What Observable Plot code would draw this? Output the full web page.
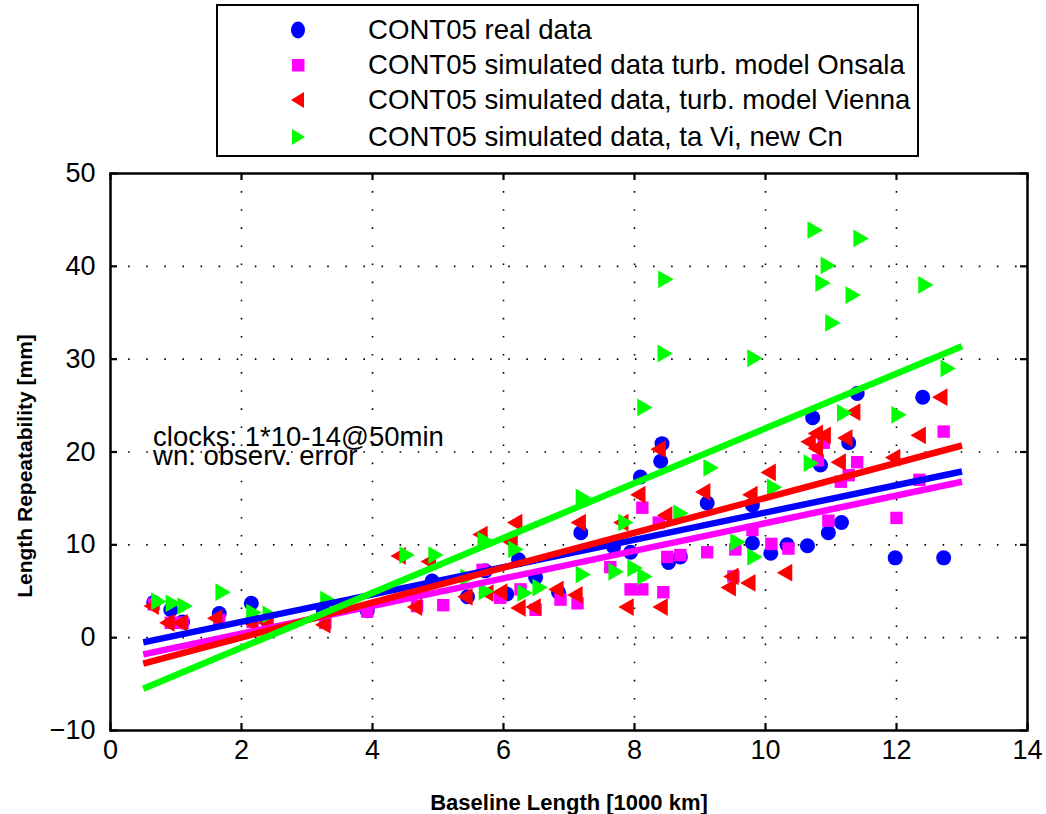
<!DOCTYPE html>
<html><head><meta charset="utf-8">
<script src="https://cdn.jsdelivr.net/npm/d3@7"></script>
<script src="https://cdn.jsdelivr.net/npm/@observablehq/plot@0.6"></script>
<style>
body{margin:0;background:#fff;font-family:"Liberation Sans",Arial,Helvetica,sans-serif;}
#wrap{width:1046px;background:#fff;}
#legend{position:relative;height:160px;width:1046px;}
#legend .box{position:absolute;left:216px;top:4px;width:703px;height:153px;border:2.5px solid #000;box-sizing:border-box;}
#legend .row{position:absolute;left:0;height:34px;font-size:27.6px;color:#000;white-space:nowrap;}
#legend .row svg{position:absolute;left:287px;top:6px;}
#legend .row span{position:absolute;left:368px;line-height:34px;top:0;}
</style></head>
<body><div id="wrap"><div id="legend"><div class="box"></div></div><div id="chart"></div></div>
<script>
// ---- data ----
const seriesNames = [
  "CONT05 real data",
  "CONT05 simulated data turb. model Onsala",
  "CONT05 simulated data, turb. model Vienna",
  "CONT05 simulated data, ta Vi, new Cn"
];
const seriesColors = ["#0000ff", "#ff00ff", "#ff0000", "#00ff00"];

const realData = [
  [0.66,3.8],[0.92,3.0],[1.1,1.7],[1.66,2.6],[2.15,3.7],[3.25,2.9],[3.92,2.9],
  [4.91,6.1],[5.45,4.4],[5.72,7.2],[6.05,4.7],[6.23,8.4],[6.49,6.5],[6.84,4.9],
  [7.18,11.3],[7.68,9.8],[7.94,9.2],[8.09,17.3],[8.42,20.9],[8.4,19.0],[8.52,8.1],
  [8.7,8.7],[9.11,14.5],[9.8,14.3],[9.8,10.2],[10.08,9.1],[10.33,10.0],[10.64,9.9],
  [10.72,23.7],[10.84,18.6],[10.96,11.3],[11.16,12.4],[11.27,21.0],[11.4,26.3],
  [11.98,8.6],[12.4,25.9],[12.72,8.6]
];
const onsalaData = [
  [0.66,3.6],[0.92,1.6],[1.1,1.6],[1.66,1.9],[2.17,1.7],[2.4,1.7],[3.28,1.6],[3.92,2.8],
  [4.68,3.4],[5.08,3.5],[5.68,7.3],[5.95,4.3],[6.26,5.2],[6.49,3.0],[6.87,4.1],[7.13,3.7],
  [7.63,7.6],[7.94,5.2],[8.12,5.2],[8.12,14.0],[8.37,12.4],[8.44,4.9],[8.5,8.7],[8.7,8.9],
  [9.11,9.2],[9.51,6.6],[9.54,9.5],[9.8,11.6],[10.09,10.1],[10.35,9.6],[10.8,19.1],
  [10.89,21.0],[10.96,12.6],[11.15,16.8],[11.27,17.5],[11.4,18.9],[12.0,12.9],[12.35,17.0],
  [12.72,22.2]
];
const viennaData = [
  [0.66,3.4],[0.9,1.6],[1.1,1.6],[1.63,2.1],[2.17,1.6],[2.4,1.6],[3.28,1.4],[4.43,8.8],
  [4.68,3.3],[4.89,8.2],[5.45,4.4],[5.68,11.1],[5.77,4.8],[5.98,4.9],[6.14,10.3],[6.21,12.4],
  [6.26,3.2],[6.49,3.3],[6.84,5.2],[7.13,4.6],[7.18,12.4],[7.83,12.4],[7.91,3.3],[8.09,15.4],
  [8.4,20.3],[8.43,3.3],[8.5,13.2],[9.08,15.7],[9.47,5.4],[9.51,6.6],[9.77,5.9],[9.8,15.4],
  [10.08,17.8],[10.33,7.0],[10.69,21.1],[10.8,22.0],[10.92,21.8],[10.8,20.4],[11.15,18.9],
  [11.25,21.5],[11.37,24.3],[11.98,19.4],[12.37,21.8],[12.7,25.9]
];
const newCnData = [
  [0.7,3.9],[0.92,3.7],[1.1,3.4],[1.68,4.9],[2.15,2.7],[2.4,2.5],[3.28,4.1],[4.49,8.9],
  [4.93,8.9],[5.42,6.5],[5.68,10.5],[5.7,5.0],[6.15,9.5],[6.29,4.8],[6.52,5.4],[7.18,15.1],
  [7.18,6.8],[7.68,7.1],[7.83,12.4],[7.97,7.5],[8.12,6.6],[8.12,24.8],[8.43,30.6],[8.44,38.6],
  [8.67,13.4],[9.13,18.3],[9.54,10.3],[9.8,8.7],[9.8,30.1],[10.1,16.2],[10.66,18.8],
  [10.72,43.9],[10.84,38.2],[10.92,40.1],[10.99,33.9],[11.17,24.2],[11.3,36.9],[11.42,43.0],
  [12.0,24.0],[12.41,38.0],[12.75,29.0]
];
// linear fits (end points)
const fitRealData = [[0.5,-0.5],[13,17.9]];
const fitOnsala = [[0.5,-1.8],[13,16.8]];
const fitVienna = [[0.5,-2.8],[13,20.7]];
const fitNewCn = [[0.5,-5.5],[13,31.4]];

const xTicks = [0,2,4,6,8,10,12,14];
const yTicks = [-10,0,10,20,30,40,50];
const xGridTicks = [2,4,6,8,10,12];
const yGridTicks = [0,10,20,30,40];
const xLabel = "Baseline Length [1000 km]";
const yLabel = "Length Repeatability [mm]";
const noteLines = [
  {x:0.65, y:21.6, text:"clocks: 1*10-14@50min"},
  {x:0.65, y:19.6, text:"wn: observ. error"}
];

// ---- legend ----
const legendSymbols = [
  '<ellipse cx="11" cy="11" rx="7" ry="8.5" fill="#0000ff"/>',
  '<rect x="5" y="5" width="12.5" height="12.5" fill="#ff00ff"/>',
  '<polygon points="4,11 17,3 17,19" fill="#ff0000"/>',
  '<polygon points="18,11 5,3 5,19" fill="#00ff00"/>'
];
const rowCenters = [30, 65, 100, 137];
const legend = document.getElementById("legend");
seriesNames.forEach((name, i) => {
  const row = document.createElement("div");
  row.className = "row";
  row.style.top = (rowCenters[i] - 17) + "px";
  row.style.width = "1046px";
  row.innerHTML = `<svg width="22" height="22">${legendSymbols[i]}</svg><span>${name}</span>`;
  legend.appendChild(row);
});

// ---- chart ----
const dotStyle = (data, color, symbol, r, rotate) =>
  Plot.dot(data, {x: d => d[0], y: d => d[1], fill: color, stroke: "none", symbol, r, rotate});
const fitLine = (data, color) =>
  Plot.line(data, {x: d => d[0], y: d => d[1], stroke: color, strokeWidth: 6.5, strokeLinecap: "butt"});
const tickStyle = {stroke: "black", strokeWidth: 2.2};

const chart = Plot.plot({
  width: 1046, height: 654,
  marginTop: 13, marginBottom: 84, marginLeft: 110, marginRight: 19,
  x: {domain: [0, 14]},
  y: {domain: [-10, 50]},
  style: {fontFamily: "Liberation Sans, Arial, sans-serif", color: "black", background: "white", overflow: "visible"},
  marks: [
    Plot.gridX(xGridTicks, {stroke: "black", strokeOpacity: 1, strokeWidth: 1.6, strokeDasharray: "1.6,16.5"}),
    Plot.gridY(yGridTicks, {stroke: "black", strokeOpacity: 1, strokeWidth: 1.6, strokeDasharray: "1.6,16.5"}),
    dotStyle(realData, seriesColors[0], "circle", 7.5, 0),
    dotStyle(onsalaData, seriesColors[1], "square", 7, 0),
    dotStyle(viennaData, seriesColors[2], "triangle", 6.6, -90),
    dotStyle(newCnData, seriesColors[3], "triangle", 6.6, 90),
    fitLine(fitRealData, seriesColors[0]),
    fitLine(fitOnsala, seriesColors[1]),
    fitLine(fitVienna, seriesColors[2]),
    fitLine(fitNewCn, seriesColors[3]),
    Plot.text(noteLines, {x: "x", y: "y", text: "text", textAnchor: "start", fontSize: 27.5, fill: "black"}),
    Plot.frame({stroke: "black", strokeWidth: 2.5}),
    // inward ticks
    Plot.ruleX(xTicks, {x: d => d, y1: () => -10, y2: () => -10, insetTop: -7, ...tickStyle}),
    Plot.ruleX(xTicks, {x: d => d, y1: () => 50, y2: () => 50, insetBottom: -7, ...tickStyle}),
    Plot.ruleY(yTicks, {y: d => d, x1: () => 0, x2: () => 0, insetRight: -7, ...tickStyle}),
    Plot.ruleY(yTicks, {y: d => d, x1: () => 14, x2: () => 14, insetLeft: -7, ...tickStyle}),
    Plot.axisX(xTicks, {anchor: "bottom", tickSize: 0, tickPadding: 9, fontSize: 27, label: null}),
    Plot.axisY(yTicks, {anchor: "left", tickSize: 0, tickPadding: 15, fontSize: 27, label: null}),
    Plot.text([xLabel], {frameAnchor: "bottom", dy: 79, lineAnchor: "bottom", textAnchor: "middle", fontSize: 22, fontWeight: "bold", fill: "black"}),
    Plot.text([yLabel], {frameAnchor: "left", dx: -85, dy: 14, rotate: -90, textAnchor: "middle", fontSize: 21, fontWeight: "bold", fill: "black"})
  ]
});
document.getElementById("chart").appendChild(chart);
</script>
</body></html>
